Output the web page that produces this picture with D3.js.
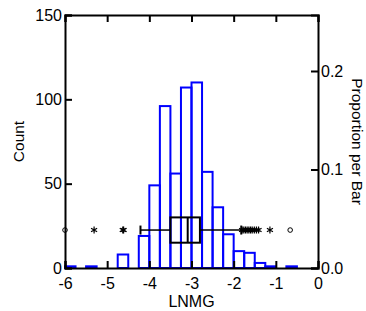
<!DOCTYPE html>
<html>
<head>
<meta charset="utf-8">
<script src="https://cdn.jsdelivr.net/npm/d3@7"></script>
<style>
  body { margin: 0; background: #fff; }
  text { font-family: Arial, "Liberation Sans", sans-serif; fill: #000; }
</style>
</head>
<body>
<svg id="chart" width="366" height="311"></svg>
<script>
// Histogram of LNMG, bins of 0.25
const binStarts = [-6, -5.75, -5.5, -5.25, -5, -4.75, -4.5, -4.25, -4, -3.75, -3.5, -3.25,
                   -3, -2.75, -2.5, -2.25, -2, -1.75, -1.5, -1.25, -1, -0.75, -0.5, -0.25];
const counts = [1, 0, 1, 0, 0, 8, 0, 19, 49, 96, 56, 107,
                110, 57, 36, 20, 10, 9, 3, 1, 0, 1, 0, 0];
const binWidth = 0.25;

// Box plot summary
const whiskerLo = -4.21, q1 = -3.5, median = -3.09, q3 = -2.8, whiskerHi = -1.82;
const outside = [-5.31, -4.63, -4.61, -1.80, -1.76, -1.72, -1.68, -1.64, -1.60, -1.56, -1.51, -1.46, -1.41, -1.14];
const farOutside = [-6.0, -0.66];

const xTicks = [-6, -5, -4, -3, -2, -1, 0];
const countTicks = [0, 50, 100, 150];
const propTicks = [0, 0.1, 0.2];

const N = d3.sum(counts);
const margin = { top: 15, right: 48, bottom: 43, left: 65 };
const width = 366, height = 311;
const svg = d3.select('#chart');

const x = d3.scaleLinear().domain([-6, 0]).range([margin.left, width - margin.right]);
const y = d3.scaleLinear().domain([0, 150]).range([height - margin.bottom, margin.top]);
const yProp = d3.scaleLinear().domain([0, 150 / N]).range([height - margin.bottom, margin.top]);

// Bars
svg.append('g')
    .selectAll('rect')
    .data(counts.map((c, i) => ({ x0: binStarts[i], c })).filter(d => d.c > 0))
    .enter()
    .append('rect')
    .attr('x', d => x(d.x0))
    .attr('y', d => y(d.c))
    .attr('width', d => x(d.x0 + binWidth) - x(d.x0))
    .attr('height', d => y(0) - y(d.c))
    .attr('fill', 'none')
    .attr('stroke', '#0000ff')
    .attr('stroke-width', 2);

// Box plot (drawn in the lower band of the frame)
const boxTop = y(30), boxBot = y(15), boxMid = (boxTop + boxBot) / 2;
const bp = svg.append('g').attr('stroke', '#000').attr('fill', 'none');
bp.append('line').attr('x1', x(whiskerLo)).attr('x2', x(q1)).attr('y1', boxMid).attr('y2', boxMid).attr('stroke-width', 1.5);
bp.append('line').attr('x1', x(q3)).attr('x2', x(whiskerHi)).attr('y1', boxMid).attr('y2', boxMid).attr('stroke-width', 1.5);
bp.append('line').attr('x1', x(whiskerLo)).attr('x2', x(whiskerLo)).attr('y1', boxMid - 4.5).attr('y2', boxMid + 4.5).attr('stroke-width', 2);
bp.append('line').attr('x1', x(whiskerHi)).attr('x2', x(whiskerHi)).attr('y1', boxMid - 4.5).attr('y2', boxMid + 4.5).attr('stroke-width', 2);
bp.append('rect').attr('x', x(q1)).attr('y', boxTop).attr('width', x(q3) - x(q1)).attr('height', boxBot - boxTop).attr('stroke-width', 2);
bp.append('line').attr('x1', x(median)).attr('x2', x(median)).attr('y1', boxTop).attr('y2', boxBot).attr('stroke-width', 2);

// Outside values as asterisks
const ast = r => {
    let p = '';
    [90, 30, 150].forEach(a => {
        const dx = r * Math.cos(a * Math.PI / 180), dy = r * Math.sin(a * Math.PI / 180);
        p += `M${-dx},${-dy}L${dx},${dy}`;
    });
    return p;
};
bp.selectAll('.ast').data(outside).enter().append('path')
    .attr('transform', d => `translate(${x(d)},${boxMid})`)
    .attr('d', ast(3.5))
    .attr('stroke-width', 1.2);
bp.selectAll('.far').data(farOutside).enter().append('circle')
    .attr('cx', d => x(d)).attr('cy', boxMid).attr('r', 2.3)
    .attr('stroke-width', 1);

// Axes
const fmt = d => String(d);
svg.append('g').attr('transform', `translate(0,${y(0)})`)
    .call(d3.axisBottom(x).tickValues(xTicks).tickSize(-7).tickPadding(10).tickFormat(fmt));
svg.append('g').attr('transform', `translate(0,${margin.top})`)
    .call(d3.axisTop(x).tickValues(xTicks).tickSize(-7).tickFormat(''));
svg.append('g').attr('transform', `translate(${margin.left},0)`)
    .call(d3.axisLeft(y).tickValues(countTicks).tickSize(-7).tickPadding(3).tickFormat(fmt));
svg.append('g').attr('transform', `translate(${width - margin.right},0)`)
    .call(d3.axisRight(yProp).tickValues(propTicks).tickSize(-7).tickPadding(3).tickFormat(d3.format('.1f')));

svg.selectAll('.domain').attr('stroke', '#000').attr('stroke-width', 2);
svg.selectAll('.tick line').attr('stroke', '#000').attr('stroke-width', 2);
svg.selectAll('.tick text').attr('font-size', 16).attr('fill', '#000');

// Axis titles
svg.append('text')
    .attr('transform', `translate(24,${(margin.top + y(0)) / 2}) rotate(-90)`)
    .attr('text-anchor', 'middle')
    .attr('font-size', 15.5)
    .text('Count');
svg.append('text')
    .attr('transform', `translate(352,${(margin.top + y(0)) / 2}) rotate(90)`)
    .attr('text-anchor', 'middle')
    .attr('font-size', 15.5)
    .text('Proportion per Bar');
svg.append('text')
    .attr('x', x(-3))
    .attr('y', 307)
    .attr('text-anchor', 'middle')
    .attr('font-size', 16)
    .text('LNMG');
</script>
</body>
</html>
